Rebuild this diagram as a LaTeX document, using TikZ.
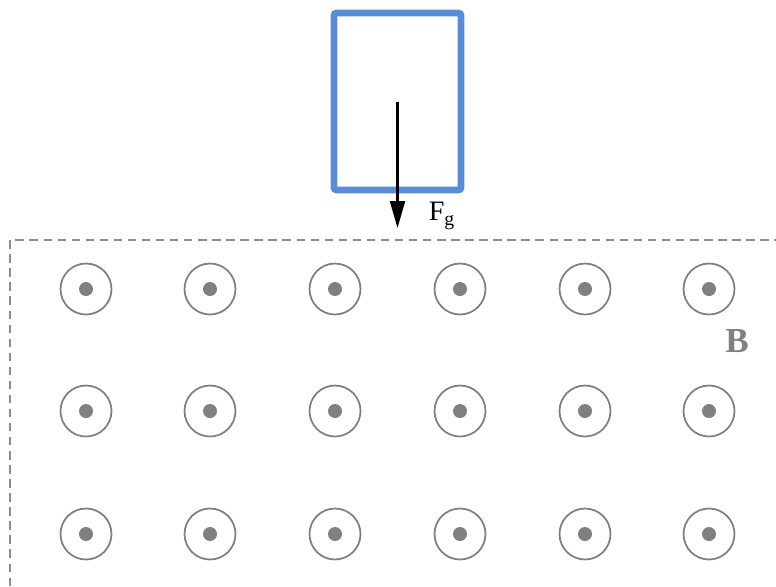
\documentclass[tikz,border=0pt]{standalone}
\usepackage{fontspec}
\setmainfont{Liberation Serif}
\usepackage{xcolor}
\usetikzlibrary{arrows.meta}
\definecolor{bleubloc}{RGB}{88,140,214}
\definecolor{grischamp}{RGB}{128,128,128}
\definecolor{griscadre}{RGB}{140,140,140}

\begin{document}
\begin{tikzpicture}[x=0.02cm,y=-0.02cm,
    bloc/.style={draw=bleubloc,line width=3.9pt,rounded corners=1.5pt,minimum width=2.54cm,minimum height=3.54cm,inner sep=0pt},
    champ/.style={circle,draw=grischamp,line width=1pt,minimum size=1.02cm,inner sep=0pt}]
    \useasboundingbox (0,0) rectangle (776,586);

    % Cadre (zone du champ)
    \draw[griscadre,line width=0.9pt,dash pattern=on 4.8pt off 3.2pt] (10,586) -- (10,240) -- (776,240);

    % Bloc et poids
    \node[bloc] (bloc) at (397.5,101.5) {};
    \coordinate (pointe) at (397.5,228);
    \draw[-{Triangle[length=0.54cm,width=0.3cm]},line width=1.3pt] (bloc.center) -- (pointe);
    \node (fg) at (442,216) {\fontsize{16}{18}\selectfont F\textsubscript{g}};

    % Champ B sortant
    \foreach \i/\x in {1/86,2/210,3/335,4/460,5/585,6/709} {
        \foreach \j/\y in {1/289,2/411,3/534} {
            \node[champ] (c\i\j) at (\x,\y) {};
            \fill[grischamp] (c\i\j.center) circle (0.14cm);
        }
    }
    \node[text=grischamp] (B) at (737,341) {\fontsize{20}{22}\selectfont\bfseries B};
\end{tikzpicture}
\end{document}
